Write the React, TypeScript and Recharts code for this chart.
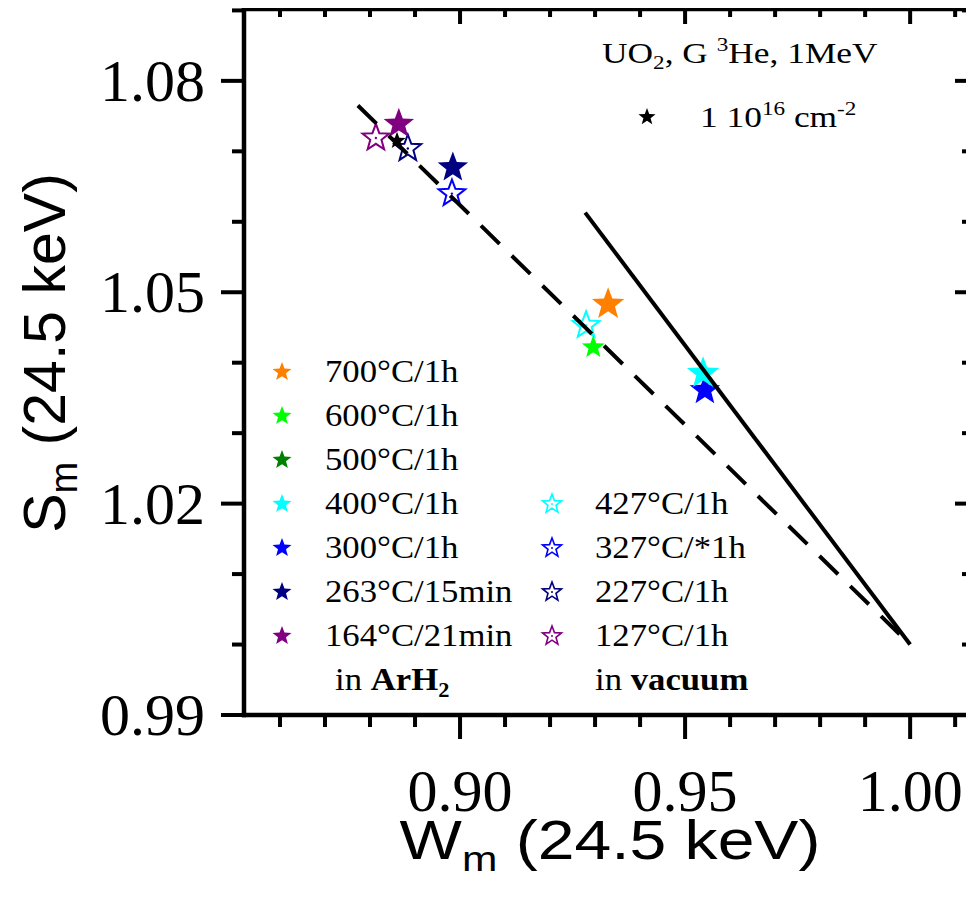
import { ScatterChart, Scatter, XAxis, YAxis } from 'recharts'

const W = 966
const H = 880

// annealed in ArH2 -> filled stars
const arh2Labels = ['700°C/1h', '600°C/1h', '500°C/1h', '400°C/1h', '300°C/1h', '263°C/15min', '164°C/21min']
const arh2Colors = ['#ff8000', '#00ff00', '#008000', '#00ffff', '#0000ff', '#000080', '#800080']
const arh2W = [0.9329, 0.9296, null, 0.954, 0.9544, 0.8984, 0.8864]
const arh2S = [1.0483, 1.0422, null, 1.0385, 1.0361, 1.0677, 1.0739]
const arh2R = [17, 12, 12, 17, 16, 16, 16]

// annealed in vacuum -> open stars
const vacLabels = ['427°C/1h', '327°C/*1h', '227°C/1h', '127°C/1h']
const vacColors = ['#00ffff', '#0000ff', '#000080', '#800080']
const vacW = [0.928, 0.8982, 0.8884, 0.8813]
const vacS = [1.0453, 1.064, 1.0704, 1.0719]

// as implanted 1e16 cm-2
const implW = [0.886]
const implS = [1.0715]

const dashedW = [0.8773, 1.0]
const dashedS = [1.0765, 1.0]
const solidW = [0.9278, 1.0]
const solidS = [1.0613, 1.0]

const xTicks = [0.86, 0.87, 0.88, 0.89, 0.9, 0.91, 0.92, 0.93, 0.94, 0.95, 0.96, 0.97, 0.98, 0.99, 1.0, 1.01]
const xMajor = [0.9, 0.95, 1.0]
const yTicks = [0.99, 1.0, 1.01, 1.02, 1.03, 1.04, 1.05, 1.06, 1.07, 1.08, 1.09]
const yMajor = [0.99, 1.02, 1.05, 1.08]

const xDomain = [0.852, 1.0133]
const yDomain = [0.99, 1.0902]

const pts = (ws: (number | null)[], ss: (number | null)[]) =>
  ws.map((w, i) => ({ w, s: ss[i] })).filter(p => p.w !== null)

const starPath = (cx: number, cy: number, r: number) => {
  const p: string[] = []
  for (let i = 0; i < 10; i++) {
    const rad = i % 2 === 0 ? r : r * 0.42
    const a = -Math.PI / 2 + (i * Math.PI) / 5
    p.push(`${(cx + rad * Math.cos(a)).toFixed(2)},${(cy + rad * Math.sin(a)).toFixed(2)}`)
  }
  return 'M' + p.join('L') + 'Z'
}

const Star = ({ cx, cy, r, color, open }: any) =>
  open ? (
    <g>
      <path d={starPath(cx, cy, r)} fill='#fff' fillOpacity={0} stroke={color} strokeWidth={2} />
      <circle cx={cx} cy={cy} r={1.2} fill={color} />
    </g>
  ) : (
    <path d={starPath(cx, cy, r)} fill={color} />
  )

const near = (v: number, list: number[]) => list.some(m => Math.abs(m - v) < 1e-6)

const tickFor = (side: 'bottom' | 'top' | 'left' | 'right', major: number[]) => (props: any) => {
  const { x, y, payload } = props
  const big = near(payload.value, major)
  const sw = 4
  if (side === 'bottom') {
    const len = big ? 24 : 12
    return (
      <g>
        <line x1={x} x2={x} y1={y} y2={y + len} stroke='#000' strokeWidth={sw} />
        {big && (
          <text x={x} y={y + 96} textAnchor='middle' fontFamily='Liberation Serif' fontSize={60} fill='#000'>
            {payload.value.toFixed(2)}
          </text>
        )}
      </g>
    )
  }
  if (side === 'left') {
    const len = big ? 23 : 12
    return (
      <g>
        <line x1={x} x2={x - len} y1={y} y2={y} stroke='#000' strokeWidth={sw} />
        {big && (
          <text x={x - 39} y={y + 20} textAnchor='end' fontFamily='Liberation Serif' fontSize={60} fill='#000'>
            {payload.value.toFixed(2)}
          </text>
        )}
      </g>
    )
  }
  const len = big ? 15 : 8
  if (side === 'top') return <line x1={x} x2={x} y1={y} y2={y + len} stroke='#000' strokeWidth={sw} />
  return <line x1={x} x2={x - len} y1={y} y2={y} stroke='#000' strokeWidth={sw} />
}

const axisLine = { stroke: '#000', strokeWidth: 4.5, strokeLinecap: 'square' as const }

export default function App() {
  const legendY = (row: number) => 364 + row * 44
  return (
    <div style={{ position: 'relative', width: W, height: H, background: '#fff' }}>
      <ScatterChart width={W} height={H} margin={{ top: 0, right: 3, bottom: 73, left: 136 }}>
        <XAxis xAxisId='b' dataKey='w' type='number' domain={xDomain} allowDataOverflow ticks={xTicks} interval={0}
          height={100} tickSize={0} tickMargin={0} axisLine={axisLine} tickLine={false} tick={tickFor('bottom', xMajor)} />
        <XAxis xAxisId='t' orientation='top' dataKey='w' type='number' domain={xDomain} allowDataOverflow ticks={xTicks} interval={0}
          height={1} tickSize={0} tickMargin={0} axisLine={axisLine} tickLine={false} tick={tickFor('top', xMajor)} />
        <YAxis yAxisId='l' dataKey='s' type='number' domain={yDomain} allowDataOverflow ticks={yTicks} interval={0}
          width={100} tickSize={0} tickMargin={0} axisLine={axisLine} tickLine={false} tick={tickFor('left', yMajor)} />
        <YAxis yAxisId='r' orientation='right' dataKey='s' type='number' domain={yDomain} allowDataOverflow ticks={yTicks} interval={0}
          width={1} tickSize={0} tickMargin={0} axisLine={axisLine} tickLine={false} tick={tickFor('right', yMajor)} />

        {vacLabels.map((name, i) => (
          <Scatter key={name} name={name} xAxisId='b' yAxisId='l' data={pts([vacW[i]], [vacS[i]])} isAnimationActive={false}
            shape={(p: any) => <Star cx={p.cx} cy={p.cy} r={14} color={vacColors[i]} open />} />
        ))}
        {arh2Labels.map((name, i) => ({ name, i })).reverse().map(({ name, i }) => (
          <Scatter key={name} name={name} xAxisId='b' yAxisId='l' data={pts([arh2W[i]], [arh2S[i]])} isAnimationActive={false}
            shape={(p: any) => <Star cx={p.cx} cy={p.cy} r={arh2R[i]} color={arh2Colors[i]} />} />
        ))}

        <Scatter name='dashed' xAxisId='b' yAxisId='l' data={pts(dashedW, dashedS)} isAnimationActive={false}
          line={{ stroke: '#000', strokeWidth: 4, strokeDasharray: '26 17' }} shape={() => <g />} />
        <Scatter name='solid' xAxisId='b' yAxisId='l' data={pts(solidW, solidS)} isAnimationActive={false}
          line={{ stroke: '#000', strokeWidth: 4 }} shape={() => <g />} />

        <Scatter name='1e16' xAxisId='b' yAxisId='l' data={pts(implW, implS)} isAnimationActive={false}
          shape={(p: any) => <Star cx={p.cx} cy={p.cy} r={9} color='#000' />} />
      </ScatterChart>

      <svg width={W} height={H} style={{ position: 'absolute', left: 0, top: 0, pointerEvents: 'none' }}>
        <text transform='translate(602,851) scale(1.18,1)' textAnchor='middle' fontFamily='Liberation Sans' fontSize={56}>
          W<tspan fontSize={36} dy={12}>m</tspan><tspan dy={-12}> (24.5 keV)</tspan>
        </text>
        <text transform='translate(57,345) rotate(-90)' textAnchor='middle' fontFamily='Liberation Sans' fontSize={59}>
          S<tspan fontSize={38} dy={12}>m</tspan><tspan dy={-12}> (24.5 keV)</tspan>
        </text>

        <g fontFamily='Liberation Serif' fill='#000'>
          <text transform='translate(594,55) scale(1.22,1)' fontSize={29}>
            UO<tspan fontSize={19} dy={6}>2</tspan><tspan dy={-6}>, G </tspan><tspan fontSize={19} dy={-12}>3</tspan><tspan dy={12}>He, 1MeV</tspan>
          </text>
          <path d={starPath(639, 109, 9)} fill='#000' />
          <text transform='translate(692,119) scale(1.22,1)' fontSize={29}>
            1 10<tspan fontSize={19} dy={-12}>16</tspan><tspan dy={12}> cm</tspan><tspan fontSize={19} dy={-12}>-2</tspan>
          </text>

          {arh2Labels.map((name, i) => (
            <g key={name}>
              <path d={starPath(274, legendY(i), 10)} fill={arh2Colors[i]} />
              <text transform={`translate(317,${legendY(i) + 10}) scale(1.12,1)`} fontSize={31}>{name}</text>
            </g>
          ))}
          <text transform='translate(327,682) scale(1.12,1)' fontSize={31}>
            in <tspan fontWeight='bold'>ArH</tspan><tspan fontWeight='bold' fontSize={20} dy={7}>2</tspan>
          </text>

          {vacLabels.map((name, i) => (
            <g key={name}>
              <path d={starPath(544, legendY(i + 3), 10)} fill='none' stroke={vacColors[i]} strokeWidth={1.6} />
              <circle cx={544} cy={legendY(i + 3)} r={1} fill={vacColors[i]} />
              <text transform={`translate(587,${legendY(i + 3) + 10}) scale(1.12,1)`} fontSize={31}>{name}</text>
            </g>
          ))}
          <text transform='translate(587,682) scale(1.12,1)' fontSize={31}>
            in <tspan fontWeight='bold'>vacuum</tspan>
          </text>
        </g>
      </svg>
    </div>
  )
}
